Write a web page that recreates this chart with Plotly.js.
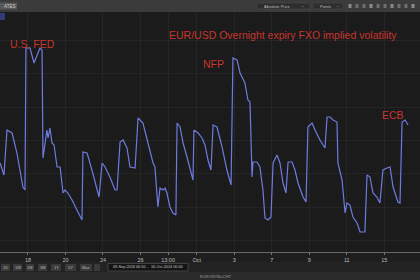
<!DOCTYPE html>
<html><head><meta charset="utf-8">
<script src="https://cdn.plot.ly/plotly-3.0.1.min.js"></script>
<style>html,body{margin:0;padding:0;background:#1c1c1c;}#chart{width:420px;height:280px;}</style>
</head><body><div id="chart"></div>
<script>
// x: trading days after 18-Sep-2024 ; y: overnight implied vol (%)
const tradingDay = [-1.49,-1.28,-1.12,-0.85,-0.59,-0.43,-0.27,-0.16,-0.11,0.11,0.32,0.64,0.75,0.80,0.91,1.01,1.07,1.17,1.28,1.39,1.55,1.71,1.87,1.97,2.13,2.35,2.61,2.88,2.93,3.15,3.41,3.68,3.79,3.95,4.11,4.37,4.64,4.75,4.91,5.07,5.28,5.44,5.71,5.87,5.97,6.13,6.40,6.67,6.77,6.88,6.93,7.04,7.20,7.31,7.41,7.57,7.73,7.89,7.95,8.11,8.27,8.48,8.64,8.80,8.85,9.07,9.28,9.44,9.60,9.76,9.87,10.08,10.35,10.61,10.83,10.93,11.15,11.31,11.57,11.73,11.84,11.95,12.00,12.21,12.37,12.53,12.64,12.80,12.96,13.07,13.28,13.44,13.60,13.76,13.87,14.08,14.24,14.40,14.67,14.83,14.93,15.15,15.31,15.57,15.84,15.95,16.11,16.27,16.48,16.53,16.75,16.91,17.01,17.17,17.33,17.55,17.71,17.97,18.08,18.24,18.40,18.61,18.77,18.93,19.15,19.31,19.47,19.73,19.84,19.95,20.11,20.27];
const impliedVol = [6.64,5.92,8.62,8.44,7.24,6.22,5.20,5.02,13.54,13.54,12.64,13.54,13.42,6.94,8.02,8.62,8.14,8.74,7.84,7.72,6.40,6.40,4.84,5.02,4.84,4.42,3.82,3.22,7.30,7.24,6.22,5.02,4.60,6.64,6.40,5.80,5.02,5.02,7.90,8.02,7.54,6.40,6.34,9.34,9.22,9.04,7.84,6.64,6.40,4.24,4.00,5.14,5.02,5.14,4.84,4.00,3.64,3.52,9.04,8.80,7.84,7.00,6.22,5.62,8.62,8.44,8.14,7.72,6.82,6.22,8.92,8.80,7.60,6.22,5.32,12.94,12.82,12.04,11.44,10.42,10.30,5.80,6.70,6.70,6.40,5.02,3.34,3.22,3.40,6.64,7.12,6.64,5.44,4.84,6.70,6.70,6.22,5.44,4.60,4.30,8.80,9.04,8.62,8.02,7.54,9.40,9.40,9.22,9.10,6.64,5.62,3.64,4.24,4.12,3.40,3.04,2.50,2.50,5.92,5.80,4.84,4.60,4.24,6.22,6.34,6.40,5.20,4.30,4.24,9.10,9.22,8.92];
const tickPositions = [0,2,4,6,7.47,9,11,13,15,17,19];
const tickLabels = ["18","20","24","26","13:00","Oct","3","7","9","11","15"];
const chartTitle = "EUR/USD Overnight expiry FXO implied volatility";
const eventLabels = ["U.S. FED","NFP","ECB"];
const rangeButtons = ["1D","1W","1M","3M","1Y","5Y","Max"];
const dateRange = "09-Sep-2024 00:00  -  16-Oct-2024 00:00";
const ricText = "EURONYM=CHT";

const W=420,H=280,T=13,B=252;
const px = x => x/W;
const py = y => (B-y)/(B-T);
const red = '#c8362d';
const shapes = [];
const annotations = [];
function rect(x0,y0,x1,y1,fill,line){shapes.push({type:'rect',xref:'paper',yref:'paper',x0:px(x0),x1:px(x1),y0:py(y1),y1:py(y0),fillcolor:fill,line:{width:line?0.6:0,color:line||fill},layer:'below'});}
function txt(s,x,y,size,color,anchor){annotations.push({text:s,xref:'paper',yref:'paper',x:px(x),y:py(y),xanchor:anchor||'center',yanchor:'middle',showarrow:false,font:{family:'Liberation Sans, Arial',size:size,color:color}});}
// top toolbar
rect(0,0,420,12,'#3b3b3b');
rect(0,2.5,17,9.5,'#575757');
txt('ATES',9,6,4.5,'#cfcfcf');
rect(257,3,310,9,'#2e2e2e','#4a4a4a');
txt('Absolute Price',262,6,4,'#bdbdbd','left');
txt('⌄',302,5.5,4,'#9a9a9a');
rect(313,3,343,9,'#2e2e2e','#4a4a4a');
txt('Points',318,6,4,'#bdbdbd','left');
txt('⌄',337,5.5,4,'#9a9a9a');
[350,357,364,371,378,385,392,399,406,413].forEach((x,i)=>rect(x-1.5,4,x+1.5,8,i%3==0?'#8a8a8a':'#6e6e6e'));
// legend tag
rect(0,13,5,20,'#353a78');
// axis band & toolbars
rect(0,252,420,262,'#1e1e1e');
rect(0,262,420,272,'#232323');
rect(0,272,420,280,'#2b2b2b');
const bx=[[1,10],[13,22],[26,34],[38,47],[51,61],[65,76],[80,92],[94,100]];
bx.forEach((b,i)=>{rect(b[0],264,b[1],271,'#3a3a3a');if(i<rangeButtons.length)txt(rangeButtons[i],(b[0]+b[1])/2,267.5,4,'#bdbdbd');});
rect(108,263.5,188,271,'#141414','#5a5a5a');
txt(dateRange,148,267.3,3.8,'#c8c8c8');
txt(ricText,198,276,4,'#9a9a9a','left');
// titles
txt(chartTitle,283,35,10.5,red);
txt(eventLabels[0],32,44,10.5,red);
txt(eventLabels[1],213,64,10.5,red);
txt(eventLabels[2],393,115,10.5,red);

Plotly.newPlot('chart',[{x:tradingDay,y:impliedVol,type:'scatter',mode:'lines',line:{color:'#6e7be0',width:1.2},hoverinfo:'skip'}],{
  width:W,height:H,margin:{l:0,r:0,t:T,b:H-B},
  paper_bgcolor:'#1c1c1c',plot_bgcolor:'#1b1b1b',showlegend:false,
  xaxis:{range:[-1.493,20.907],tickvals:tickPositions,ticktext:tickLabels,showgrid:true,gridcolor:'#262626',gridwidth:1,zeroline:false,
    showline:true,linecolor:'#6a6a6a',linewidth:1,ticks:'outside',ticklen:2,tickcolor:'#777',tickfont:{family:'Liberation Sans, Arial',size:5.5,color:'#bdbdbd'}},
  yaxis:{range:[1.3,15.64],showgrid:true,gridcolor:'#252525',dtick:2,zeroline:false,showticklabels:false,ticks:''},
  shapes:shapes,annotations:annotations
},{staticPlot:true,displayModeBar:false});
</script></body></html>
